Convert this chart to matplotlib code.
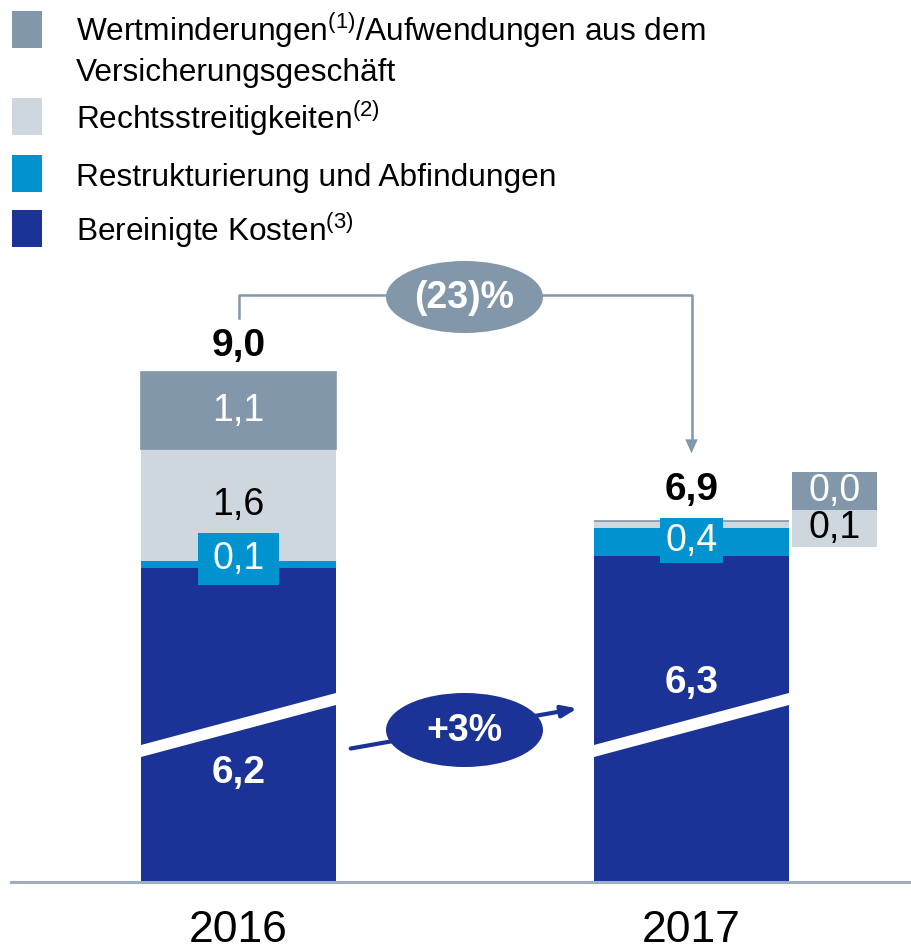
import matplotlib.pyplot as plt
from matplotlib.patches import Rectangle, Ellipse, Polygon

plt.rcParams["font.family"] = ["Liberation Sans", "DejaVu Sans"]
plt.rcParams["mathtext.fontset"] = "custom"
plt.rcParams["mathtext.rm"] = "Liberation Sans"

# Data (EUR bn)
years = ["2016", "2017"]
bereinigt = [6.2, 6.3]
restrukt = [0.1, 0.4]
recht = [1.6, 0.1]
wertmind = [1.1, 0.0]
totals = [9.0, 6.9]
change_total = "(23)%"
change_adj = "+3%"

labels = [["Wertminderungen$^{(1)}$/Aufwendungen aus dem", "Versicherungsgeschäft"],
          ["Rechtsstreitigkeiten$^{(2)}$"],
          ["Restrukturierung und Abfindungen"],
          ["Bereinigte Kosten$^{(3)}$"]]

c_grey = "#8397AB"
c_light = "#CED6DE"
c_cyan = "#0093D0"
c_dark = "#1B3296"

BREAK = [1.72, 1.64]  # axis break in the dark segment (per bar)
PXU = 70.0            # pixels per unit


def fmt(v):
    return f"{v:.1f}".replace(".", ",")


W, H = 911, 950
fig = plt.figure(figsize=(W / 100, H / 100), dpi=100)
base_px = 882
ax = fig.add_axes([0, (H - base_px) / H, 1, base_px / H])
ax.set_ylim(0, base_px / PXU)
ax.set_xlim(-238.5 / 453, (W - 238.5) / 453)
ax.axis("off")

x = [0, 1]
bw = 195 / 453


def py(p):
    return (base_px - p) / PXU


def pxx(p):
    return (p - 238.5) / 453


dark_disp = [v - b for v, b in zip(bereinigt, BREAK)]
b1 = dark_disp
b2 = [a + b for a, b in zip(b1, restrukt)]
b3 = [a + b for a, b in zip(b2, recht)]

ax.bar(x, dark_disp, bw, color=c_dark)
ax.bar(x, restrukt, bw, bottom=b1, color=c_cyan)
ax.bar(x, recht, bw, bottom=b2, color=c_light)
ax.bar(x, wertmind, bw, bottom=b3, color=c_grey, edgecolor=c_grey, linewidth=1.2)

# break slashes
for xi in x:
    l, r = xi - bw / 2, xi + bw / 2
    ax.add_patch(Polygon([(l, py(745)), (r, py(693)), (r, py(705)), (l, py(757))],
                         closed=True, color="white", lw=0))

# baseline
ax.plot([pxx(11), pxx(911)], [0, 0], color="#9CAEC2", lw=2.2, clip_on=False)

fs = 27
fsb = 28
# segment labels
ax.text(0, b3[0] + wertmind[0] / 2, fmt(wertmind[0]), color="white", fontsize=fs,
        ha="center", va="center")
ax.text(0, b2[0] + recht[0] / 2, fmt(recht[0]), color="black",
        fontsize=fs, ha="center", va="center")
ax.add_patch(Rectangle((pxx(198), py(585)), 81 / 453, 52 / PXU, color=c_cyan, lw=0))
ax.text(0, py(559), fmt(restrukt[0]), color="white",
        fontsize=fs, ha="center", va="center")
ax.add_patch(Rectangle((pxx(660), py(563)), 63 / 453, 45 / PXU, color=c_cyan, lw=0))
ax.text(1, py(541), fmt(restrukt[1]), color="white",
        fontsize=fs, ha="center", va="center")
ax.text(0, py(773), fmt(bereinigt[0]), color="white", fontsize=fsb,
        fontweight="bold", ha="center", va="center")
ax.text(1, py(683), fmt(bereinigt[1]), color="white", fontsize=fsb,
        fontweight="bold", ha="center", va="center")

# totals
ax.text(0, py(346), fmt(totals[0]), fontsize=fsb, fontweight="bold",
        ha="center", va="center")
ax.text(1, py(490), fmt(totals[1]), fontsize=fsb, fontweight="bold",
        ha="center", va="center")

# side boxes for small 2017 values
sx0, sx1 = pxx(792), pxx(877)
ax.add_patch(Rectangle((sx0, py(510)), sx1 - sx0, py(472) - py(510), color=c_grey, lw=0))
ax.add_patch(Rectangle((sx0, py(547)), sx1 - sx0, py(510) - py(547), color=c_light, lw=0))
ax.text((sx0 + sx1) / 2, py(491), fmt(wertmind[1]), color="white",
        fontsize=fs, ha="center", va="center")
ax.text((sx0 + sx1) / 2, py(528), fmt(recht[1]), color="black",
        fontsize=fs, ha="center", va="center")

# bracket arrow for total change
ax.plot([0, 0, 1, 1], [py(318), py(295), py(295), py(445)], color=c_grey, lw=1.8)
ax.annotate("", xy=(1, py(456)), xytext=(1, py(440)),
            arrowprops=dict(arrowstyle="-|>,head_width=0.45,head_length=1.0",
                            color=c_grey, lw=0))
ax.add_patch(Ellipse((pxx(464.5), py(297)), 157 / 453, 72 / PXU, color=c_grey, lw=0))
ax.text(pxx(464.5), py(298), change_total, color="white", fontsize=27, fontweight="bold",
        ha="center", va="center")

# arrow for adjusted costs change
ax.annotate("", xy=(pxx(580), py(708)), xytext=(pxx(348), py(749)),
            arrowprops=dict(arrowstyle="-|>,head_width=0.35,head_length=0.9",
                            color=c_dark, lw=3.0))
ax.add_patch(Ellipse((pxx(464.5), py(730)), 157 / 453, 74 / PXU, color=c_dark, lw=0))
ax.text(pxx(464.5), py(731), change_adj, color="white", fontsize=27, fontweight="bold",
        ha="center", va="center")

# year labels
for xi, yr in zip(x, years):
    ax.text(xi, py(930), yr, fontsize=32, ha="center", va="center", clip_on=False)

# legend
leg_colors = [c_grey, c_light, c_cyan, c_dark]
sq_top = [11, 98, 155, 210]
txt_y = [[30, 70], [118], [175], [230]]
for col, top, tys, labs in zip(leg_colors, sq_top, txt_y, labels):
    fig.patches.append(Rectangle((12 / W, 1 - (top + 37) / H), 30 / W, 37 / H,
                                 color=col, lw=0, transform=fig.transFigure, figure=fig))
    for ty, lab in zip(tys, labs):
        fig.text(76 / W, 1 - (ty + 11) / H, lab, fontsize=22.8, ha="left", va="baseline")

fig.savefig("out.png", dpi=100)
